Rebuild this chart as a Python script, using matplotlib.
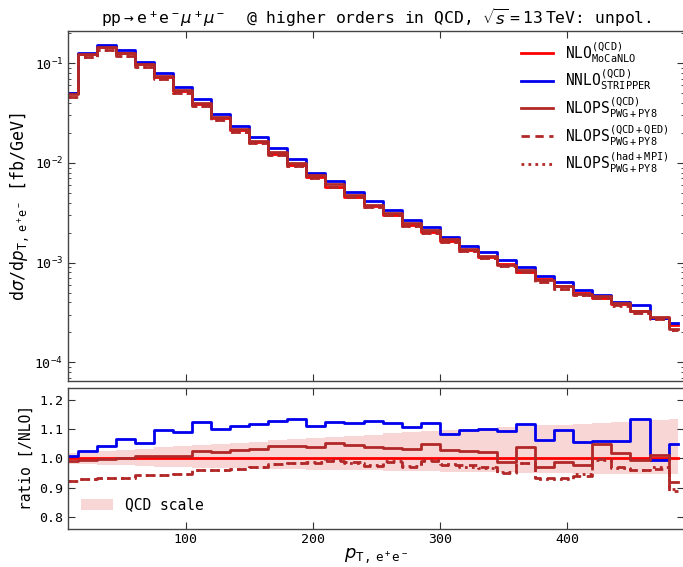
import numpy as np
import matplotlib
matplotlib.use("Agg")
import matplotlib.pyplot as plt

plt.rcParams['font.family'] = ['DejaVu Sans Mono', 'DejaVu Sans']
plt.rcParams['mathtext.fontset'] = 'custom'
plt.rcParams['mathtext.rm'] = 'DejaVu Sans Mono'
plt.rcParams['mathtext.it'] = 'DejaVu Sans:italic'
plt.rcParams['mathtext.bf'] = 'DejaVu Sans Mono:bold'
plt.rcParams['mathtext.sf'] = 'DejaVu Sans'

# bin centres in GeV (15 GeV bins)
pt_centres = [7.5, 22.5, 37.5, 52.5, 67.5, 82.5, 97.5, 112.5, 127.5, 142.5, 157.5,
              172.5, 187.5, 202.5, 217.5, 232.5, 247.5, 262.5, 277.5, 292.5, 307.5,
              322.5, 337.5, 352.5, 367.5, 382.5, 397.5, 412.5, 427.5, 442.5, 457.5,
              472.5, 487.5]

# NLO (QCD) MoCaNLO differential cross section [fb/GeV]
nlo = [0.0499, 0.124, 0.145, 0.128, 0.0977, 0.0733, 0.0530, 0.0389, 0.0283, 0.0213,
       0.0162, 0.0124, 0.0096, 0.00721, 0.00581, 0.00461, 0.00368, 0.00301, 0.00241,
       0.00201, 0.00166, 0.00135, 0.00115, 0.00097, 0.000815, 0.000684, 0.000585,
       0.000501, 0.000446, 0.000383, 0.000328, 0.000281, 0.000237]

# ratios to NLO
r_nnlo = [1.010, 1.025, 1.044, 1.067, 1.053, 1.097, 1.090, 1.125, 1.101, 1.110, 1.118,
          1.128, 1.134, 1.110, 1.126, 1.122, 1.127, 1.122, 1.109, 1.122, 1.085, 1.097,
          1.100, 1.093, 1.117, 1.064, 1.097, 1.056, 1.061, 1.059, 1.134, 0.995, 1.048]
r_ps_qcd = [0.991, 0.993, 0.997, 1.000, 1.008, 1.009, 1.009, 1.026, 1.022, 1.028, 1.034,
            1.043, 1.043, 1.040, 1.053, 1.045, 1.039, 1.036, 1.032, 1.051, 1.030, 1.024,
            1.023, 0.988, 1.040, 0.970, 0.988, 0.977, 1.048, 1.019, 0.993, 1.011, 0.920]
r_ps_qed = [0.923, 0.928, 0.933, 0.933, 0.943, 0.944, 0.945, 0.960, 0.960, 0.963, 0.969,
            0.981, 0.983, 0.984, 0.992, 0.988, 0.975, 0.989, 0.970, 0.991, 0.978, 0.976,
            0.972, 0.949, 0.983, 0.932, 0.934, 0.940, 0.997, 0.972, 0.959, 0.965, 0.889]
r_ps_had = [0.923, 0.928, 0.933, 0.933, 0.943, 0.944, 0.945, 0.960, 0.960, 0.963, 0.969,
            0.981, 0.983, 0.988, 0.995, 0.985, 0.978, 0.992, 0.975, 0.994, 0.982, 0.970,
            0.968, 0.952, 0.985, 0.928, 0.930, 0.945, 0.993, 0.968, 0.962, 0.970, 0.895]
scale_up = [1.018, 1.022, 1.026, 1.030, 1.034, 1.038, 1.042, 1.046, 1.050, 1.054, 1.058,
            1.062, 1.066, 1.070, 1.074, 1.078, 1.082, 1.086, 1.090, 1.094, 1.098, 1.101,
            1.104, 1.107, 1.110, 1.113, 1.116, 1.119, 1.122, 1.125, 1.128, 1.131, 1.134]
scale_dn = [0.982, 0.980, 0.978, 0.976, 0.974, 0.972, 0.970, 0.968, 0.967, 0.966, 0.965,
            0.964, 0.963, 0.962, 0.961, 0.960, 0.959, 0.958, 0.957, 0.956, 0.955, 0.954,
            0.953, 0.952, 0.951, 0.950, 0.949, 0.948, 0.947, 0.947, 0.946, 0.946, 0.945]

x = np.array(pt_centres)
nlo_a = np.array(nlo)
series_top = {
    'nnlo': nlo_a * np.array(r_nnlo),
    'qcd': nlo_a * np.array(r_ps_qcd),
    'qed': nlo_a * np.array(r_ps_qed),
    'had': nlo_a * np.array(r_ps_had),
}

RED = '#ff0000'
BLUE = '#0000ee'
DRED = '#b22828'

W, H = 683, 567
fig = plt.figure(figsize=(W / 100, H / 100), dpi=100)
ax1 = fig.add_axes([68 / W, 1 - 381 / H, (684.5 - 68) / W, (381 - 31) / H])
ax2 = fig.add_axes([68 / W, 1 - 528.5 / H, (684.5 - 68) / W, (528.5 - 387.5) / H], sharex=ax1)

lw = 2.0
ax1.step(x, nlo_a, where='mid', color=RED, lw=lw,
         label=r'NLO$^{\rm (QCD)}_{\rm MoCaNLO}$')
ax1.step(x, series_top['nnlo'], where='mid', color=BLUE, lw=lw,
         label=r'NNLO$^{\rm (QCD)}_{\rm STRIPPER}$')
ax1.step(x, series_top['qcd'], where='mid', color=DRED, lw=lw,
         label=r'NLOPS$^{\rm (QCD)}_{\rm PWG+PY8}$')
ax1.step(x, series_top['qed'], where='mid', color=DRED, lw=lw, ls=(0, (3, 2)),
         label=r'NLOPS$^{\rm (QCD+QED)}_{\rm PWG+PY8}$')
ax1.step(x, series_top['had'], where='mid', color=DRED, lw=lw, ls=(0, (1, 1.5)),
         label=r'NLOPS$^{\rm (had+MPI)}_{\rm PWG+PY8}$')
ax1.set_yscale('log')
ax1.set_ylim(6.5e-5, 0.211)
ax1.set_xlim(7.5, 492.5)
ax1.set_ylabel(r'd$\sigma$/d$p_{\rm T,\,e^+e^-}$ [fb/GeV]', fontsize=12, labelpad=1.5)
ax1.legend(loc='upper right', frameon=False, fontsize=10.5, handlelength=2.2,
           labelspacing=0.2, bbox_to_anchor=(0.995, 1.012))
ax1.set_title(r'pp$\rightarrow$e$^+$e$^-\mu^+\mu^-$  @ higher orders in QCD, $\sqrt{s}=13\,$TeV: unpol.',
              fontsize=11.8, pad=5)
plt.setp(ax1.get_xticklabels(), visible=False)

ax2.fill_between(x, scale_dn, scale_up, step='mid', color='#f7c0c0', alpha=0.65,
                 lw=0, label='QCD scale')
ax2.step(x, np.ones_like(x), where='mid', color=RED, lw=lw)
ax2.step(x, r_nnlo, where='mid', color=BLUE, lw=lw)
ax2.step(x, r_ps_qcd, where='mid', color=DRED, lw=lw)
ax2.step(x, r_ps_qed, where='mid', color=DRED, lw=lw, ls=(0, (3, 2)))
ax2.step(x, r_ps_had, where='mid', color=DRED, lw=lw, ls=(0, (1, 1.5)))
ax2.set_ylim(0.76, 1.243)
ax2.set_yticks([0.8, 0.9, 1.0, 1.1, 1.2])
ax2.set_xticks([100, 200, 300, 400])
ax2.set_ylabel('ratio [/NLO]', fontsize=10.5, labelpad=4)
ax2.set_xlabel(r'$p_{\rm T,\,e^+e^-}$', fontsize=13, labelpad=0)
ax2.legend(loc='lower left', frameon=False, fontsize=10.5, handlelength=2.2,
           bbox_to_anchor=(0.0, 0.02))

for ax in (ax1, ax2):
    ax.tick_params(which='both', direction='in', top=True, right=True, labelsize=9.5,
                   color='#333333')
    ax.tick_params(which='major', length=5)
    ax.tick_params(which='minor', length=2.5)
    for s in ax.spines.values():
        s.set_color('#444444')
        s.set_linewidth(1.0)
ax2.minorticks_off()
ax1.xaxis.set_minor_locator(matplotlib.ticker.NullLocator())

fig.savefig('out.png', dpi=100)
